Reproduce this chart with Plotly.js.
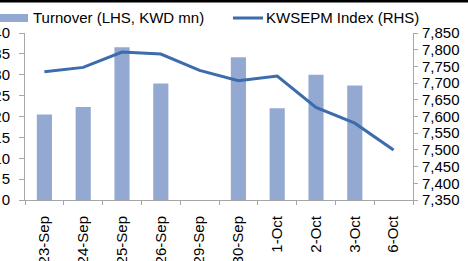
<!DOCTYPE html>
<html>
<head>
<meta charset="utf-8">
<script src="https://cdn.plot.ly/plotly-3.0.1.min.js"></script>
<style>html,body{margin:0;padding:0;background:#fff;}#chart{width:468px;height:261px;}</style>
</head>
<body>
<div id="chart"></div>
<script>
var categories = ["23-Sep","24-Sep","25-Sep","26-Sep","29-Sep","30-Sep","1-Oct","2-Oct","3-Oct","6-Oct"];
var turnover = [20.5, 22.3, 36.6, 27.9, null, 34.2, 22.0, 30.0, 27.4, null];
var kwsepm = [7734, 7747, 7793, 7787, 7738, 7707, 7721, 7627, 7580, 7500];
var leftTicks = [0,5,10,15,20,25,30,35,40];
var rightTicks = [7350,7400,7450,7500,7550,7600,7650,7700,7750,7800,7850];

var barColor = "#93a9d1";
var lineColor = "#3c6cab";
var axisColor = "#a6a6a6";
var font = {family: "Liberation Sans, Arial, sans-serif", size: 15, color: "#000"};

var traces = [
  {type: "bar", x: categories, y: turnover, name: "Turnover (LHS, KWD mn)",
   marker: {color: barColor, line: {width: 0}}, width: 0.39, yaxis: "y", hoverinfo: "none"},
  {type: "scatter", mode: "lines", x: categories, y: kwsepm, name: "KWSEPM Index (RHS)",
   line: {color: lineColor, width: 3}, yaxis: "y2", hoverinfo: "none"}
];

var layout = {
  width: 468, height: 261,
  margin: {l: 25, r: 55, t: 33, b: 61, pad: 0},
  paper_bgcolor: "#fff", plot_bgcolor: "#fff",
  font: font,
  showlegend: false,
  xaxis: {type: "category", showline: true, linecolor: axisColor, linewidth: 1,
    ticks: "outside", tickson: "boundaries", ticklen: 4, tickcolor: axisColor,
    tickangle: -90, showgrid: false, zeroline: false, tickfont: font, ticklabelstandoff: 9},
  yaxis: {range: [0, 40], tickvals: leftTicks, showline: true, linecolor: axisColor, linewidth: 1,
    ticks: "outside", ticklen: 5, tickcolor: axisColor, showgrid: false, zeroline: false,
    tickfont: font, ticklabelstandoff: 6},
  yaxis2: {range: [7350, 7850], tickvals: rightTicks, tickformat: ",d", overlaying: "y", side: "right",
    showline: true, linecolor: axisColor, linewidth: 1, ticks: "outside", ticklen: 4, tickcolor: axisColor,
    showgrid: false, zeroline: false, tickfont: font, ticklabelstandoff: 1},
  shapes: [
    {type: "rect", xref: "paper", yref: "paper", x0: -0.07, x1: 1.16, y0: 1.183, y1: 1.2, fillcolor: "#000", line: {width: 0}},
    {type: "rect", xref: "paper", yref: "paper", x0: -0.0644, x1: 0.0077, y0: 1.0659, y1: 1.1138, fillcolor: barColor, line: {width: 0}},
    {type: "line", xref: "paper", yref: "paper", x0: 0.536, x1: 0.6134, y0: 1.0898, y1: 1.0898, line: {color: lineColor, width: 3}}
  ],
  annotations: [
    {xref: "paper", yref: "paper", x: 0.0155, y: 1.0928, xanchor: "left", yanchor: "middle",
     text: "Turnover (LHS, KWD mn)", showarrow: false, font: font},
    {xref: "paper", yref: "paper", x: 0.616, y: 1.0928, xanchor: "left", yanchor: "middle",
     text: "KWSEPM Index (RHS)", showarrow: false, font: font}
  ]
};

Plotly.newPlot("chart", traces, layout, {staticPlot: true, displayModeBar: false});
</script>
</body>
</html>
